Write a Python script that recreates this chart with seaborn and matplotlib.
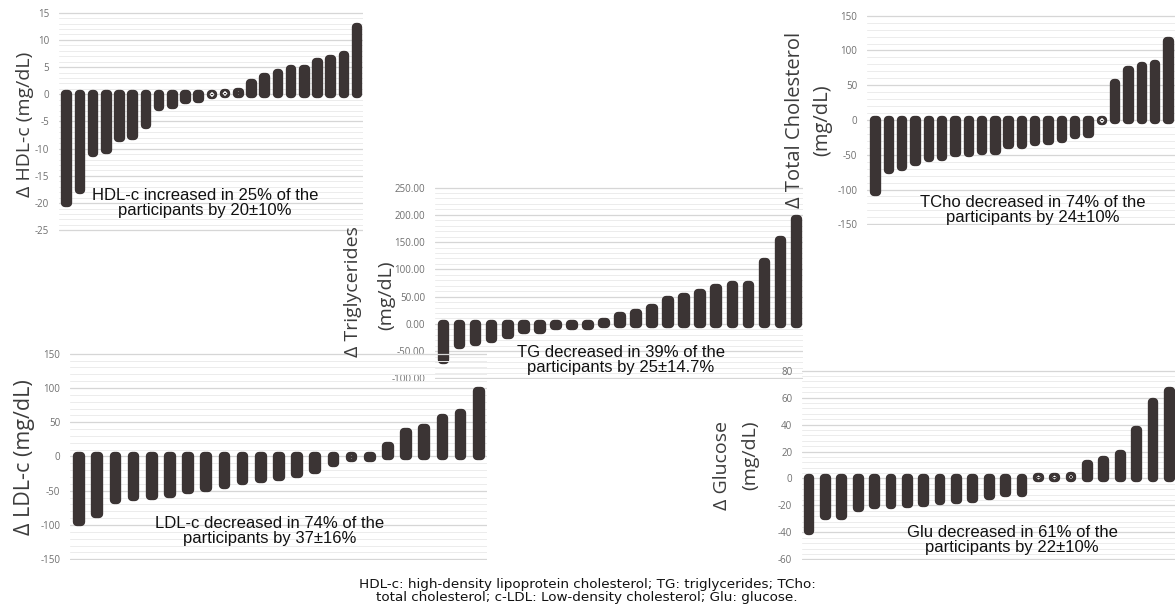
""" five waterfall panels: change in lipid / glucose values per participant """
import matplotlib
matplotlib.use("Agg")
import matplotlib.pyplot as plt
from matplotlib.ticker import MultipleLocator, FormatStrFormatter
import seaborn as sns

W, H = 1175, 615

# change per participant, sorted (mg/dL)
hdl = [-19.9, -17.5, -10.8, -10.2, -8.0, -7.7, -5.7, -2.3, -2.0, -1.1, -0.9, -0.2, 0.2,
       0.5, 2.0, 3.1, 3.9, 4.7, 4.7, 6.0, 6.4, 7.2, 12.4]
tcho = [-103, -72, -68, -61, -54, -53, -48, -47, -45, -44, -36, -36, -31, -30, -27, -22,
        -20, -2, 53, 72, 78, 80, 113]
tg = [-66, -38.5, -33, -28.5, -20.5, -11.5, -10.5, -3, -3, -3, 3, 14, 20, 29, 43, 49,
      56, 65, 72, 72, 113, 153, 192]
ldl = [-95, -84, -63, -59, -57, -54, -49, -46, -42, -36, -33, -30, -25, -19, -10, -2, -2,
       15, 36, 42, 56, 64, 96]
glu = [-39, -28, -28, -22, -20, -20, -19, -18, -17, -16, -15, -13, -11, -11, 1, 1, 2, 11,
       14, 18, 36, 57, 65]

notes = {
    "hdl": "HDL-c increased in 25% of the\nparticipants by 20±10%",
    "tcho": "TCho decreased in 74% of the\nparticipants by 24±10%",
    "tg": "TG decreased in 39% of the\nparticipants by 25±14.7%",
    "ldl": "LDL-c decreased in 74% of the\nparticipants by 37±16%",
    "glu": "Glu decreased in 61% of the\nparticipants by 22±10%",
}
footnote = ("HDL-c: high-density lipoprotein cholesterol; TG: triglycerides; TCho:\n"
            "total cholesterol; c-LDL: Low-density cholesterol; Glu: glucose.")

BAR_C = "#3b3434"
LW = 6.0  # thick bar edge with round joins -> pill shaped bars

sns.set_style("white")
plt.rcParams["axes.unicode_minus"] = False
plt.rcParams["font.family"] = ["Open Sans", "DejaVu Sans"]


def add_panel(fig, box, vals, ylim, major, minor, width, xlim, fmt="%d"):
    l, t, r, b = box
    ax = fig.add_axes([l / W, 1 - b / H, (r - l) / W, (b - t) / H])
    ax.patch.set_alpha(0)
    sns.barplot(x=list(range(len(vals))), y=vals, color=BAR_C, saturation=1,
                width=width, linewidth=LW, edgecolor=BAR_C, ax=ax)
    for p in ax.patches:
        p.set_joinstyle("round")
    ax.set_ylim(*ylim)
    ax.set_xlim(*xlim)
    ax.yaxis.set_major_locator(MultipleLocator(major))
    ax.yaxis.set_minor_locator(MultipleLocator(minor))
    ax.yaxis.set_major_formatter(FormatStrFormatter(fmt))
    ax.grid(which="major", axis="y", color="#d6d6d6", lw=0.9)
    ax.grid(which="minor", axis="y", color="#ececec", lw=0.7)
    ax.set_axisbelow(True)
    ax.set_xticks([])
    ax.set(xlabel="", ylabel="")
    ax.tick_params(which="both", length=0, pad=7, labelsize=7, labelcolor="#6f6f6f")
    sns.despine(ax=ax, left=True, bottom=True)
    return ax


def ftext(x, y, s, **kw):
    return plt.gcf().text(x / W, 1 - y / H, s, ha="center", va="center", **kw)


fig = plt.figure(figsize=(W / 100, H / 100), dpi=100)

add_panel(fig, (59, 11, 363, 232), hdl, (-25.3, 15.3), 5, 1, 0.2, (-0.58, 22.45))
add_panel(fig, (867, 15, 1175, 225), tcho, (-151, 151), 50, 10, 0.18, (-0.65, 22.5))
add_panel(fig, (435, 187, 803, 379), tg, (-101, 251), 50, 10, 0.23, (-0.53, 22.4), "%.2f")
add_panel(fig, (70, 353, 487, 560), ldl, (-151, 151), 50, 10, 0.2, (-0.5, 22.45))
add_panel(fig, (802, 370, 1175, 560), glu, (-60.5, 80.5), 20, 4, 0.17, (-0.43, 22.35))

ylab = dict(rotation=90, color="#3c3c3c")
ftext(25, 124, "Δ HDL-c (mg/dL)", fontsize=14, **ylab)
ftext(795, 120, "Δ Total Cholesterol", fontsize=14.5, **ylab)
ftext(822, 120, "(mg/dL)", fontsize=14.5, **ylab)
ftext(353, 292, "Δ Triglycerides", fontsize=14, **ylab)
ftext(386, 295, "(mg/dL)", fontsize=14, **ylab)
ftext(25, 457, "Δ LDL-c (mg/dL)", fontsize=15.5, **ylab)
ftext(722, 465, "Δ Glucose", fontsize=14, **ylab)
ftext(750, 455, "(mg/dL)", fontsize=14, **ylab)

note = dict(fontsize=12, family=["Liberation Sans", "DejaVu Sans"], linespacing=1.0,
            color="#111111")
ftext(205, 203, notes["hdl"], **note)
ftext(1033, 210, notes["tcho"], **note)
ftext(621, 360, notes["tg"], **note)
ftext(270, 531, notes["ldl"], **note)
ftext(1012, 540, notes["glu"], **note)

ftext(587, 591, footnote, fontsize=9.7, family=["DejaVu Sans"], linespacing=1.05,
      color="#111111")

fig.savefig("out.png", dpi=100)
